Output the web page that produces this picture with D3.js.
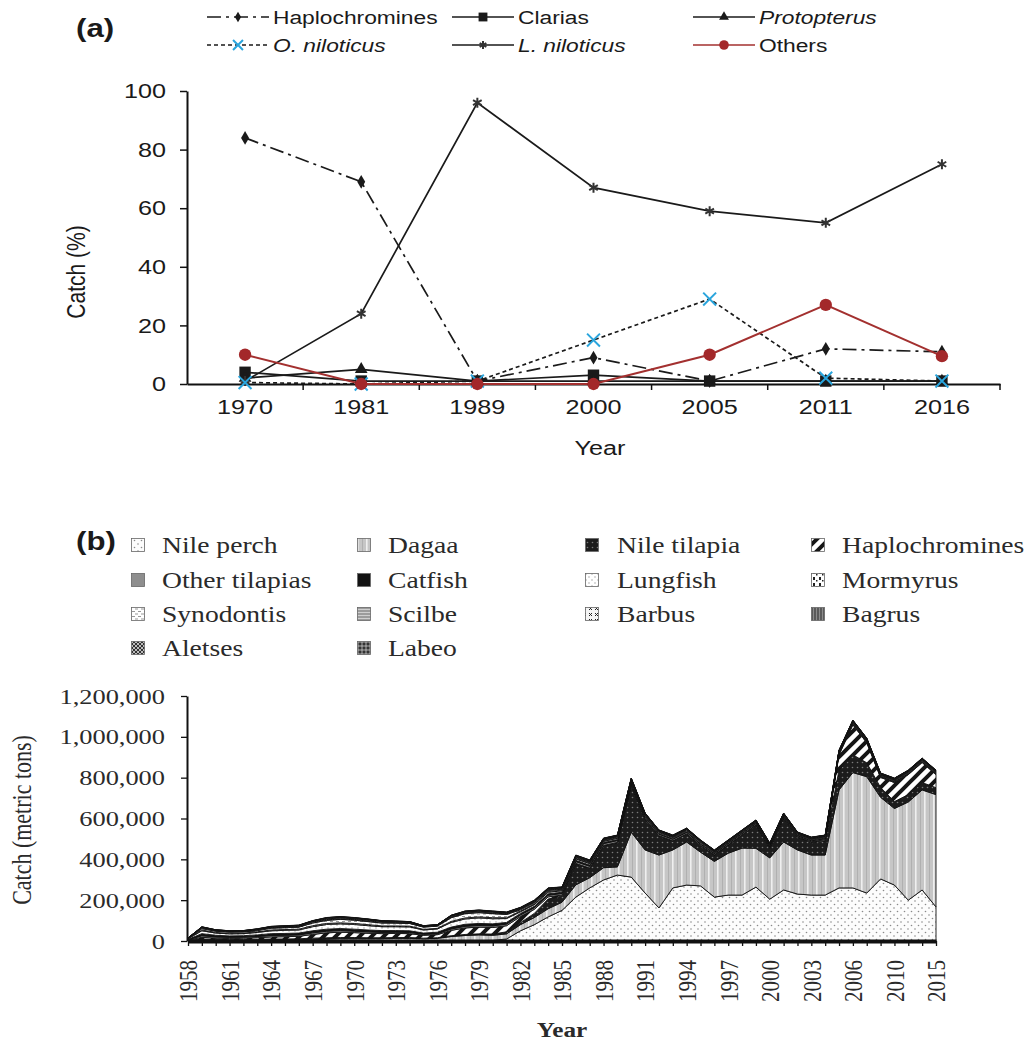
<!DOCTYPE html>
<html>
<head>
<meta charset="utf-8">
<script src="https://cdn.jsdelivr.net/npm/d3@7"></script>
<style>
body { margin: 0; background: #fff; }
</style>
</head>
<body>
<svg id="chart" width="1027" height="1042"></svg>
<script>
// (a) share of the catch in each survey (%)
var surveyYears = ["1970", "1981", "1989", "2000", "2005", "2011", "2016"];
var haplochromines = [84, 69, 1, 9, 1, 12, 11];
var clarias = [4, 1, 1, 3, 1, 1, 1];
var protopterus = [2, 5, 1, 1, 1, 1, 1];
var oNiloticus = [0.5, 0, 1, 15, 29, 2, 1];
var lNiloticus = [1, 24, 96, 67, 59, 55, 75];
var others = [10, 0, 0, 0, 10, 27, 9.5];
var pctTicks = [0, 20, 40, 60, 80, 100];

// (b) catch by species, thousand metric tons
var catchYears = ["1958","1959","1960","1961","1962","1963","1964","1965","1966","1967",
  "1968","1969","1970","1971","1972","1973","1974","1975","1976","1977",
  "1978","1979","1980","1981","1982","1983","1984","1985","1986","1987",
  "1988","1989","1990","1991","1992","1993","1994","1995","1996","1997",
  "1998","1999","2000","2001","2002","2003","2004","2005","2006","2007",
  "2008","2010","2012","2014","2015"];
var yearLabels = ["1958","1961","1964","1967","1970","1973","1976","1979","1982","1985",
  "1988","1991","1994","1997","2000","2003","2006","2010","2015"];
var catchTicks = [0, 200000, 400000, 600000, 800000, 1000000, 1200000];

var nilePerch = [0,0,0,0,0,0,1,1,1,1,1,1,1,1,1,1,1,1,1,2,2,2,3,10,
  50,80,118,150,215,260,299,323,313,235,162,260,274,270,215,225,225,264,205,250,
  230,225,225,260,260,235,304,274,200,250,167];
var dagaa = [0,0,0,0,0,0,1,2,3,5,8,10,10,10,10,12,12,10,12,20,25,28,25,25,
  30,35,40,40,60,50,60,40,220,211,259,186,211,165,175,205,230,190,202,235,
  216,196,196,480,565,570,400,375,481,490,550];
var nileTilapia = [3,10,8,7,7,8,8,7,7,8,7,6,6,5,5,4,4,3,3,4,5,5,6,10,
  10,20,48,30,102,45,108,119,231,151,94,44,39,32,31,40,64,114,48,117,
  63,62,70,97,87,68,48,34,36,36,34];
var haplos = [1,8,6,6,7,8,10,11,12,18,24,26,24,22,20,20,19,14,15,26,32,33,32,30,
  30,20,10,5,3,2,1,1,1,1,1,1,1,1,1,1,1,1,1,1,
  2,3,5,75,147,98,49,93,98,98,64];
var otherTilapias = [2,8,6,5,5,6,7,7,7,8,8,8,7,7,6,6,6,5,5,7,8,8,8,8,
  8,8,8,8,9,9,9,9,8,8,7,7,7,6,6,6,6,6,6,6,
  5,5,5,5,5,5,4,4,4,4,4];
var catfish = [2,10,8,7,7,8,9,9,9,10,10,10,10,9,9,8,8,6,7,9,10,10,10,8,
  7,7,7,6,6,6,5,5,5,4,4,4,4,4,3,3,3,3,3,3,
  3,3,3,3,3,3,3,3,3,3,3];
var lungfish = [3,14,11,10,10,12,14,15,15,20,23,23,23,21,19,19,19,15,16,23,26,27,25,19,
  8,8,8,7,7,7,6,6,6,5,5,5,5,5,4,4,4,4,4,4,
  4,4,4,4,4,4,4,4,4,4,4];
var mormyrus = [1,4,3,3,3,3,4,4,4,5,5,5,5,5,4,4,4,3,3,5,5,5,5,4,
  4,4,4,3,3,3,3,3,2,2,2,2,2,2,2,2,2,2,2,2,
  2,2,2,2,2,2,2,2,2,2,2];
var synodontis = [1,7,6,6,6,6,9,9,10,13,15,17,16,15,14,14,13,11,11,18,21,21,20,16,
  6,6,5,5,5,4,4,4,3,3,3,3,3,3,2,2,2,2,2,2,
  2,2,2,2,2,2,2,2,2,2,2];
var scilbe = [0,2,2,1,1,2,2,2,2,3,3,3,3,3,3,2,2,2,2,3,3,3,3,3,
  3,3,3,2,2,2,2,2,2,1,1,1,1,1,1,1,1,1,1,1,
  1,1,1,1,1,1,1,1,1,1,1];
var barbus = [1,3,2,2,2,3,3,3,3,4,4,4,4,4,4,3,3,2,2,4,4,4,4,3,
  3,3,3,3,3,3,2,2,2,2,2,2,2,2,2,2,2,2,2,2,
  2,2,2,2,2,2,2,2,2,2,2];
var bagrus = [1,2,2,2,2,2,2,3,3,3,4,4,4,4,3,3,3,2,2,3,3,3,3,3,
  3,3,3,3,3,3,3,3,3,2,2,2,2,2,2,2,2,2,2,2,
  2,2,2,2,2,2,2,2,2,2,2];
var aletses = [0,1,1,1,1,1,1,1,1,1,2,2,1,1,1,1,1,1,1,2,2,2,2,2,
  2,2,2,2,2,2,1,1,1,1,1,1,1,1,1,1,1,1,1,1,
  1,1,1,1,1,1,1,1,1,1,1];
var labeo = [0,1,0,0,0,1,1,1,1,1,1,1,1,1,1,1,0,0,0,0,1,1,1,1,
  1,1,1,1,1,1,1,1,1,1,1,1,1,1,1,1,1,1,1,1,
  1,1,1,1,1,1,1,1,1,1,1];

var svg = d3.select("#chart");
var SX = 1.2; // the printed figure is stretched sideways, so is its lettering

function widen(sel) {
  sel.attr("transform", function () {
    var x = +this.getAttribute("x") || 0;
    return "translate(" + x + ",0) scale(" + SX + ",1) translate(" + (-x) + ",0)";
  });
}

// ---------- patterns for panel (b)
var defs = svg.append("defs");
function pattern(id, w, h, bg) {
  var p = defs.append("pattern").attr("id", id).attr("patternUnits", "userSpaceOnUse")
    .attr("width", w).attr("height", h);
  p.append("rect").attr("width", w).attr("height", h).attr("fill", bg);
  return p;
}
var p;
p = pattern("pNilePerch", 7, 7, "#fcfcfc");
p.append("circle").attr("cx", 1.5).attr("cy", 1.5).attr("r", 0.8).attr("fill", "#8a8a8a");
p.append("circle").attr("cx", 5).attr("cy", 5).attr("r", 0.8).attr("fill", "#8a8a8a");
p = pattern("pDagaa", 9, 9, "#c6c6c6");
p.append("rect").attr("x", 6).attr("width", 1.6).attr("height", 9).attr("fill", "#efefef");
p.append("rect").attr("x", 2).attr("width", 1).attr("height", 9).attr("fill", "#b0b0b0");
p = pattern("pNileTilapia", 5, 5, "#1c1c1c");
p.append("circle").attr("cx", 2.5).attr("cy", 2.5).attr("r", 0.8).attr("fill", "#7a7a7a");
p = pattern("pHaplo", 12, 12, "#fff");
p.append("path").attr("d", "M0,12L12,0M-3,3L3,-3M9,15L15,9").attr("stroke", "#151515").attr("stroke-width", 4);
pattern("pOtherTilapias", 4, 4, "#8e8e8e");
pattern("pCatfish", 4, 4, "#121212");
p = pattern("pLungfish", 6, 6, "#fff");
p.append("circle").attr("cx", 1).attr("cy", 1).attr("r", 0.7).attr("fill", "#999");
p.append("circle").attr("cx", 4).attr("cy", 4).attr("r", 0.7).attr("fill", "#999");
p = pattern("pMormyrus", 6, 6, "#fff");
p.append("rect").attr("x", 3).attr("y", 1).attr("width", 2).attr("height", 3).attr("fill", "#222");
p.append("rect").attr("x", 0).attr("y", 4).attr("width", 1.5).attr("height", 1.5).attr("fill", "#222");
p = pattern("pSynodontis", 6, 5, "#fff");
p.append("rect").attr("x", 0).attr("y", 1).attr("width", 3).attr("height", 1).attr("fill", "#999");
p.append("rect").attr("x", 3).attr("y", 3.5).attr("width", 3).attr("height", 1).attr("fill", "#999");
p = pattern("pScilbe", 4, 3, "#9c9c9c");
p.append("rect").attr("width", 4).attr("height", 1).attr("fill", "#cfcfcf");
p = pattern("pBarbus", 6, 6, "#f4f4f4");
p.append("path").attr("d", "M1,1L4,4M4,1L1,4").attr("stroke", "#222").attr("stroke-width", 1);
p = pattern("pBagrus", 3, 3, "#5a5a5a");
p.append("rect").attr("width", 1).attr("height", 3).attr("fill", "#8c8c8c");
p = pattern("pAletses", 4, 4, "#bbb");
p.append("path").attr("d", "M0,0L4,4M4,0L0,4").attr("stroke", "#333").attr("stroke-width", 1);
p = pattern("pLabeo", 4, 4, "#333");
p.append("path").attr("d", "M0,2H4M2,0V4").attr("stroke", "#ddd").attr("stroke-width", 0.7);

// ---------- panel (a)
var seriesA = [
  {name: "Haplochromines", italic: false, values: haplochromines, stroke: "#1a1a1a", dash: "14,5,3,5", sym: d3.symbolDiamond, size: 55, fill: "#1a1a1a", col: 0, row: 0},
  {name: "Clarias", italic: false, values: clarias, stroke: "#1a1a1a", dash: null, sym: d3.symbolSquare, size: 130, fill: "#1a1a1a", col: 1, row: 0},
  {name: "Protopterus", italic: true, values: protopterus, stroke: "#1a1a1a", dash: null, sym: d3.symbolTriangle, size: 70, fill: "#1a1a1a", col: 2, row: 0},
  {name: "L. niloticus", italic: true, values: lNiloticus, stroke: "#1a1a1a", dash: null, sym: d3.symbolAsterisk, size: 70, fill: "none", symStroke: "#333", col: 1, row: 1},
  {name: "O. niloticus", italic: true, values: oNiloticus, stroke: "#1a1a1a", dash: "4,3", sym: d3.symbolTimes, size: 110, fill: "none", symStroke: "#2aa5dd", col: 0, row: 1},
  {name: "Others", italic: false, values: others, stroke: "#a3302f", dash: null, sym: d3.symbolCircle, size: 120, fill: "#a3282a", col: 2, row: 1}
];

var xA = d3.scaleBand().domain(surveyYears).range([187, 1000]);
var yA = d3.scaleLinear().domain([0, 100]).range([384, 91]);
function cx(d) { return xA(d) + xA.bandwidth() / 2; }

var gA = svg.append("g");
var fontA = "'Liberation Sans', Arial, sans-serif";

var yAxA = gA.append("g").attr("transform", "translate(187,0)")
  .call(d3.axisLeft(yA).tickValues(pctTicks).tickSize(7).tickPadding(14).tickSizeOuter(0));
yAxA.select(".domain").attr("stroke-width", 2).attr("stroke", "#111");
yAxA.selectAll(".tick line").attr("stroke", "#111").attr("stroke-width", 1.5);
yAxA.selectAll("text").attr("font-size", 21).attr("font-family", fontA).attr("fill", "#1a1a1a").call(widen);

var xAxA = gA.append("g").attr("transform", "translate(0,384)")
  .call(d3.axisBottom(xA).tickSize(0).tickPadding(15).tickSizeOuter(0));
xAxA.select(".domain").attr("stroke-width", 2).attr("stroke", "#111");
xAxA.selectAll("text").attr("font-size", 21).attr("font-family", fontA).attr("fill", "#1a1a1a").call(widen);
xAxA.selectAll(".sep").data(surveyYears).enter().append("line").attr("class", "sep")
  .attr("x1", function (d) { return xA(d) + xA.bandwidth(); })
  .attr("x2", function (d) { return xA(d) + xA.bandwidth(); })
  .attr("y1", 0).attr("y2", 6).attr("stroke", "#111").attr("stroke-width", 1.5);

gA.append("text").attr("x", 600).attr("y", 455).attr("text-anchor", "middle")
  .attr("font-family", fontA).attr("font-size", 21).attr("fill", "#1a1a1a").text("Year").call(widen);
gA.append("text").attr("transform", "translate(76,272) scale(" + SX + ",1) rotate(-90)")
  .attr("dy", "0.35em").attr("text-anchor", "middle")
  .attr("font-family", fontA).attr("font-size", 21).attr("fill", "#1a1a1a").text("Catch (%)");
gA.append("text").attr("x", 76).attr("y", 37).attr("font-family", fontA).attr("font-weight", "bold")
  .attr("font-size", 26).attr("fill", "#1a1a1a").text("(a)").call(widen);

var lineA = d3.line().x(function (d, i) { return cx(surveyYears[i]); }).y(function (d) { return yA(d); });

seriesA.forEach(function (s) {
  gA.append("path").datum(s.values).attr("d", lineA).attr("fill", "none")
    .attr("stroke", s.stroke).attr("stroke-width", s.name === "Others" ? 2 : 1.7)
    .attr("stroke-dasharray", s.dash);
});
seriesA.forEach(function (s) {
  gA.selectAll(null).data(s.values).enter().append("path")
    .attr("d", d3.symbol().type(s.sym).size(s.size))
    .attr("transform", function (d, i) { return "translate(" + cx(surveyYears[i]) + "," + yA(d) + ")"; })
    .attr("fill", s.fill).attr("stroke", s.symStroke || "none").attr("stroke-width", 2);
});

// legend (a)
var legColX = [207, 452, 693], legRowY = [17, 45];
seriesA.forEach(function (s) {
  var x0 = legColX[s.col], y0 = legRowY[s.row];
  var lg = gA.append("g");
  lg.append("line").attr("x1", x0).attr("x2", x0 + 62).attr("y1", y0).attr("y2", y0)
    .attr("stroke", s.stroke).attr("stroke-width", 1.7).attr("stroke-dasharray", s.dash);
  lg.append("path").attr("d", d3.symbol().type(s.sym).size(s.size * 0.6))
    .attr("transform", "translate(" + (x0 + 31) + "," + y0 + ")")
    .attr("fill", s.fill).attr("stroke", s.symStroke || "none").attr("stroke-width", 2);
  lg.append("text").attr("x", x0 + 66).attr("y", y0).attr("dy", "0.35em")
    .attr("font-family", fontA).attr("font-size", 19).attr("fill", "#1a1a1a")
    .attr("font-style", s.italic ? "italic" : "normal").text(s.name).call(widen);
});

// ---------- panel (b)
var seriesB = [
  {key: "Nile perch", values: nilePerch, pat: "pNilePerch"},
  {key: "Dagaa", values: dagaa, pat: "pDagaa"},
  {key: "Nile tilapia", values: nileTilapia, pat: "pNileTilapia"},
  {key: "Haplochromines", values: haplos, pat: "pHaplo"},
  {key: "Other tilapias", values: otherTilapias, pat: "pOtherTilapias"},
  {key: "Catfish", values: catfish, pat: "pCatfish"},
  {key: "Lungfish", values: lungfish, pat: "pLungfish"},
  {key: "Mormyrus", values: mormyrus, pat: "pMormyrus"},
  {key: "Synodontis", values: synodontis, pat: "pSynodontis"},
  {key: "Scilbe", values: scilbe, pat: "pScilbe"},
  {key: "Barbus", values: barbus, pat: "pBarbus"},
  {key: "Bagrus", values: bagrus, pat: "pBagrus"},
  {key: "Aletses", values: aletses, pat: "pAletses"},
  {key: "Labeo", values: labeo, pat: "pLabeo"}
];

var rowsB = catchYears.map(function (y, i) {
  var r = {year: y};
  seriesB.forEach(function (s) { r[s.key] = s.values[i] * 1000; });
  return r;
});

var xB = d3.scalePoint().domain(catchYears).range([188, 936]);
var yB = d3.scaleLinear().domain([0, 1200000]).range([941, 696]);
var fontB = "'Liberation Serif', 'Times New Roman', serif";

var gB = svg.append("g");
var stacked = d3.stack().keys(seriesB.map(function (s) { return s.key; }))(rowsB);
var areaB = d3.area()
  .x(function (d) { return xB(d.data.year); })
  .y0(function (d) { return yB(d[0]); })
  .y1(function (d) { return yB(d[1]); });

gB.selectAll(".layer").data(stacked).enter().append("path").attr("class", "layer")
  .attr("d", areaB)
  .attr("fill", function (d, i) { return "url(#" + seriesB[i].pat + ")"; })
  .attr("stroke", "#111").attr("stroke-width", 0.9).attr("stroke-linejoin", "round");

var yAxB = gB.append("g").attr("transform", "translate(187,0)")
  .call(d3.axisLeft(yB).tickValues(catchTicks).tickFormat(d3.format(",")).tickSize(6).tickPadding(16).tickSizeOuter(0));
yAxB.select(".domain").attr("stroke-width", 2).attr("stroke", "#111");
yAxB.selectAll(".tick line").attr("stroke", "#111").attr("stroke-width", 1.3);
yAxB.selectAll("text").attr("font-size", 22).attr("font-family", fontB).attr("fill", "#2a2a2a").call(widen);

var xAxB = gB.append("g").attr("transform", "translate(0,941)")
  .call(d3.axisBottom(xB).tickSize(5).tickSizeOuter(0)
    .tickFormat(function (d) { return yearLabels.indexOf(d) >= 0 ? d : ""; }));
xAxB.select(".domain").attr("stroke-width", 4).attr("stroke", "#111");
xAxB.selectAll(".tick line").attr("stroke", "#111").attr("stroke-width", 1.3);
xAxB.selectAll("text").attr("x", 0).attr("y", 0).attr("dy", "0.35em").attr("text-anchor", "end")
  .attr("transform", "translate(0,19) scale(" + SX + ",1) rotate(-90)")
  .attr("font-size", 21).attr("font-family", fontB).attr("fill", "#2a2a2a");

gB.append("text").attr("x", 562).attr("y", 1037).attr("text-anchor", "middle")
  .attr("font-family", fontB).attr("font-weight", "bold").attr("font-size", 21)
  .attr("fill", "#2a2a2a").text("Year").call(widen);
gB.append("text").attr("transform", "translate(22,820) scale(" + SX + ",1) rotate(-90)")
  .attr("dy", "0.35em").attr("text-anchor", "middle")
  .attr("font-family", fontB).attr("font-size", 22).attr("fill", "#2a2a2a").text("Catch (metric tons)");
gB.append("text").attr("x", 76).attr("y", 550).attr("font-family", fontA).attr("font-weight", "bold")
  .attr("font-size", 26).attr("fill", "#1a1a1a").text("(b)").call(widen);

// legend (b)
var legBIconX = [138, 364, 592, 818], legBTextX = [162, 388, 617, 842], legBRowY = [545, 580, 614, 648];
seriesB.forEach(function (s, i) {
  var c = i % 4, r = Math.floor(i / 4);
  gB.append("rect").attr("x", legBIconX[c] - 6.5).attr("y", legBRowY[r] - 6.5)
    .attr("width", 13).attr("height", 13).attr("fill", "url(#" + s.pat + ")")
    .attr("stroke", "#666").attr("stroke-width", 0.8);
  gB.append("text").attr("x", legBTextX[c]).attr("y", legBRowY[r]).attr("dy", "0.35em")
    .attr("font-family", fontB).attr("font-size", 23).attr("fill", "#2a2a2a")
    .text(s.key).call(widen);
});
</script>
</body>
</html>
